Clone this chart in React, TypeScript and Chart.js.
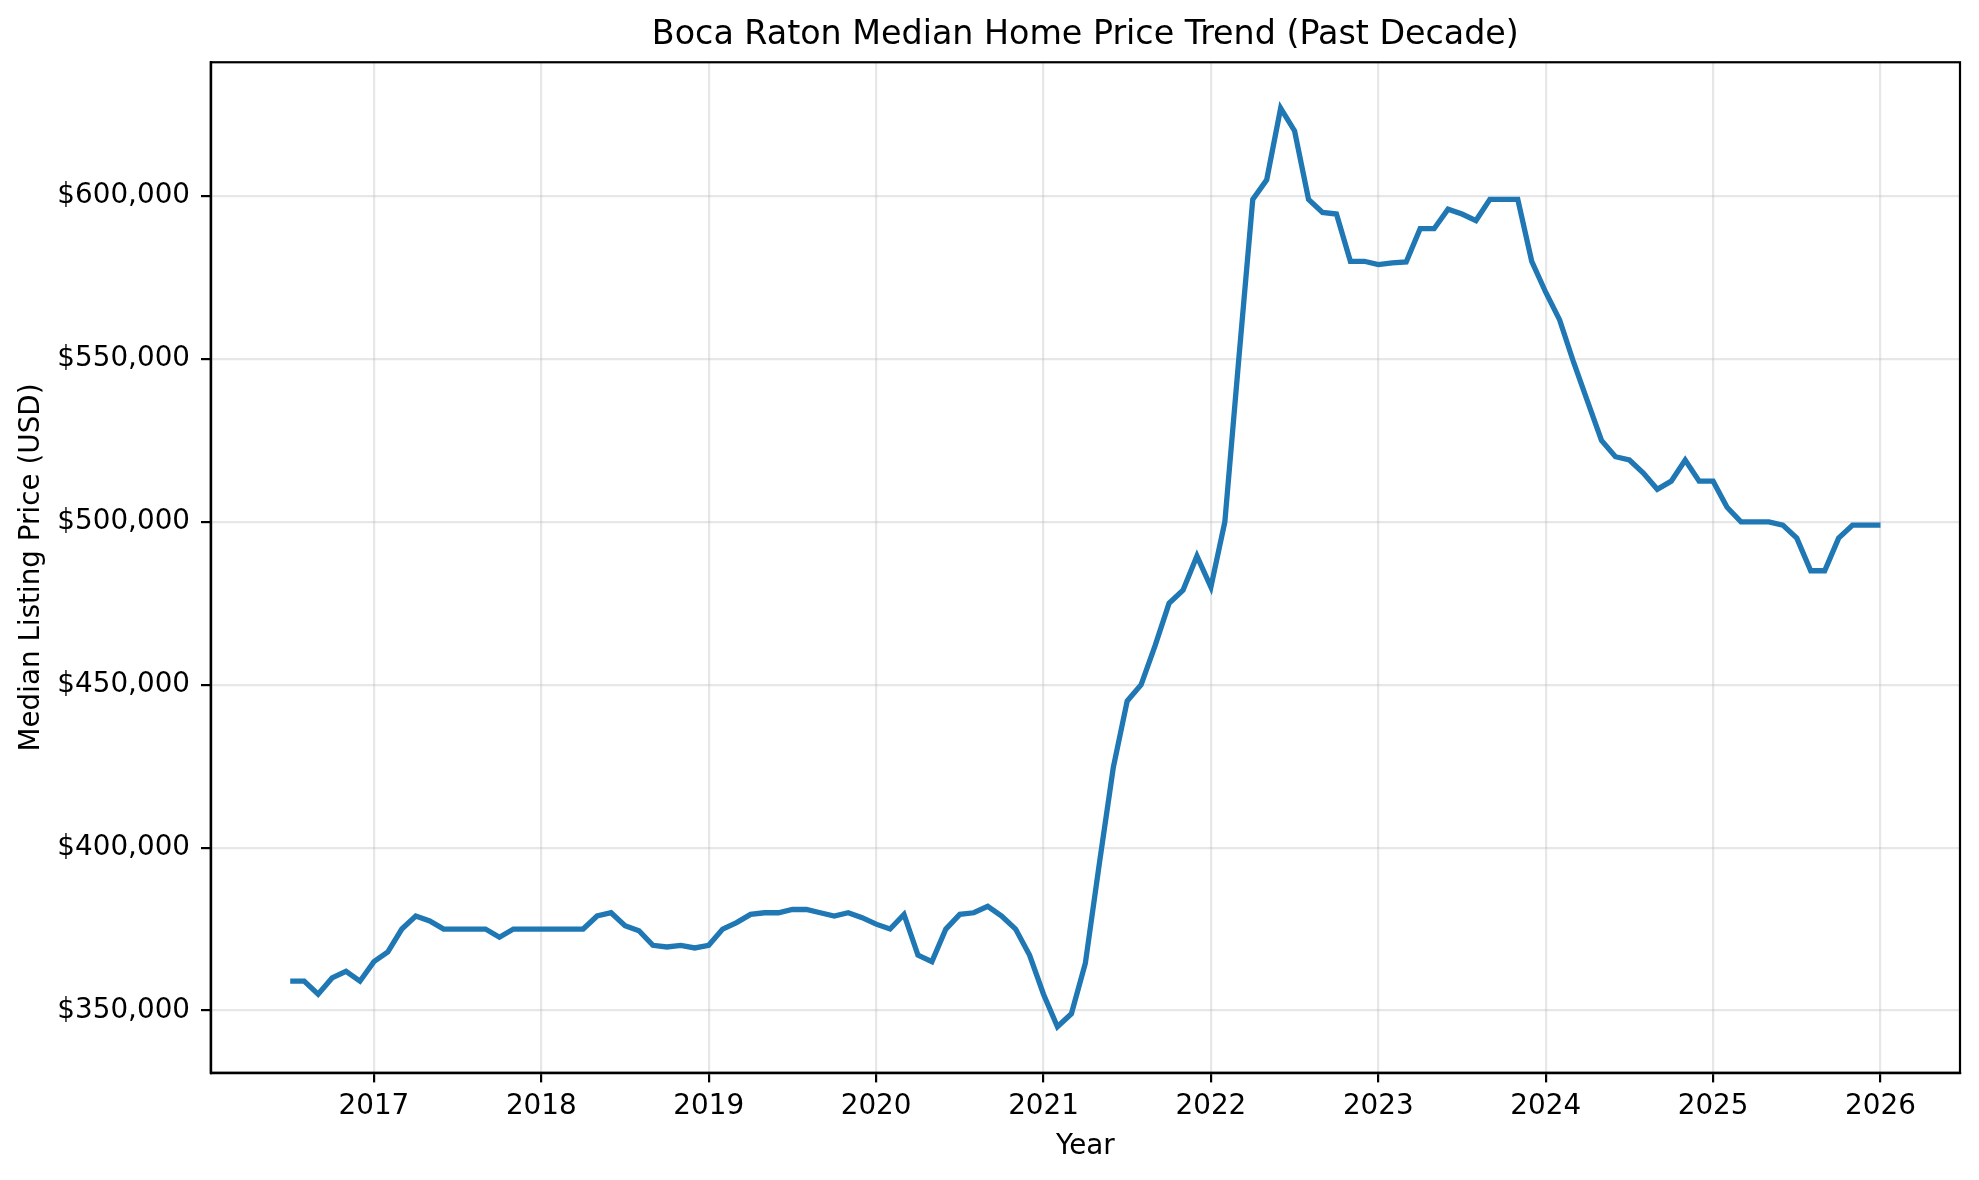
import React, { useEffect, useRef } from "react";
import { Chart, registerables } from "chart.js";

Chart.register(...registerables);

// monthly observations, Jul 2016 .. Jan 2026
const months: string[] = [
  "2016-07", "2016-08", "2016-09", "2016-10", "2016-11", "2016-12",
  "2017-01", "2017-02", "2017-03", "2017-04", "2017-05", "2017-06", "2017-07", "2017-08", "2017-09", "2017-10", "2017-11", "2017-12",
  "2018-01", "2018-02", "2018-03", "2018-04", "2018-05", "2018-06", "2018-07", "2018-08", "2018-09", "2018-10", "2018-11", "2018-12",
  "2019-01", "2019-02", "2019-03", "2019-04", "2019-05", "2019-06", "2019-07", "2019-08", "2019-09", "2019-10", "2019-11", "2019-12",
  "2020-01", "2020-02", "2020-03", "2020-04", "2020-05", "2020-06", "2020-07", "2020-08", "2020-09", "2020-10", "2020-11", "2020-12",
  "2021-01", "2021-02", "2021-03", "2021-04", "2021-05", "2021-06", "2021-07", "2021-08", "2021-09", "2021-10", "2021-11", "2021-12",
  "2022-01", "2022-02", "2022-03", "2022-04", "2022-05", "2022-06", "2022-07", "2022-08", "2022-09", "2022-10", "2022-11", "2022-12",
  "2023-01", "2023-02", "2023-03", "2023-04", "2023-05", "2023-06", "2023-07", "2023-08", "2023-09", "2023-10", "2023-11", "2023-12",
  "2024-01", "2024-02", "2024-03", "2024-04", "2024-05", "2024-06", "2024-07", "2024-08", "2024-09", "2024-10", "2024-11", "2024-12",
  "2025-01", "2025-02", "2025-03", "2025-04", "2025-05", "2025-06", "2025-07", "2025-08", "2025-09", "2025-10", "2025-11", "2025-12",
  "2026-01",
];

const medianPrice: number[] = [
  359000, 359000, 355000, 360000, 362000, 359000,
  365000, 368000, 375000, 379000, 377500, 375000, 375000, 375000, 375000, 372500, 375000, 375000,
  375000, 375000, 375000, 375000, 379000, 380000, 376000, 374500, 370000, 369500, 370000, 369200,
  370000, 375000, 377000, 379500, 380000, 380000, 381000, 381000, 380000, 379000, 380000, 378500,
  376500, 375000, 379500, 367000, 365000, 375000, 379500, 380000, 382000, 379000, 375000, 367000,
  355000, 345000, 349000, 364500, 395000, 424500, 445000, 450000, 462000, 475000, 479000, 489500,
  480000, 500000, 550000, 599000, 605000, 627000, 620000, 599000, 595000, 594500, 580000, 580000,
  579000, 579500, 579800, 590000, 590000, 596000, 594500, 592500, 599000, 599000, 599000, 580000,
  570500, 562000, 549000, 537000, 525000, 520000, 519000, 515000, 510000, 512500, 519000, 512500,
  512500, 504500, 500000, 500000, 500000, 499000, 495000, 485000, 485000, 495000, 499000, 499000,
  499000,
];

const yearTicks: number[] = [2017, 2018, 2019, 2020, 2021, 2022, 2023, 2024, 2025, 2026];
const priceTicks: number[] = [350000, 400000, 450000, 500000, 550000, 600000];

const toYear = (m: string) => {
  const [y, mo] = m.split("-").map(Number);
  return y + (mo - 1) / 12;
};

const FONT = "DejaVu Sans";

// matplotlib-style closed frame around the plot area
const framePlugin = {
  id: "frame",
  afterDraw(chart: Chart) {
    const { ctx, chartArea } = chart;
    ctx.save();
    ctx.strokeStyle = "#000";
    ctx.lineWidth = 2.2;
    ctx.strokeRect(chartArea.left, chartArea.top, chartArea.right - chartArea.left, chartArea.bottom - chartArea.top);
    ctx.restore();
  },
};

const PriceTrendChart: React.FC = () => {
  const canvasRef = useRef<HTMLCanvasElement>(null);
  const chartRef = useRef<Chart>();

  useEffect(() => {
    if (!canvasRef.current) return;
    const ctx = canvasRef.current.getContext("2d");
    if (!ctx) return;

    const points = months.map((m, i) => ({ x: toYear(m), y: medianPrice[i] }));

    chartRef.current = new Chart(ctx, {
      type: "line",
      data: {
        datasets: [
          {
            label: "Median Listing Price",
            data: points,
            borderColor: "#1f77b4",
            borderWidth: 5.3,
            pointRadius: 0,
            tension: 0,
            fill: false,
          },
        ],
      },
      plugins: [framePlugin],
      options: {
        animation: false,
        responsive: false,
        devicePixelRatio: 1,
        layout: { padding: { top: 0, left: 0, right: 19, bottom: 0 } },
        plugins: {
          legend: { display: false },
          tooltip: { enabled: false },
          title: {
            display: true,
            text: "Boca Raton Median Home Price Trend (Past Decade)",
            color: "#000",
            fullSize: false,
            font: { family: FONT, size: 33.3, weight: "normal" },
            padding: { top: 15, bottom: 7.3 },
          },
        },
        scales: {
          x: {
            type: "linear",
            min: 2016.025,
            max: 2026.475,
            afterBuildTicks: (scale: any) => {
              scale.ticks = yearTicks.map((v) => ({ value: v }));
            },
            afterFit: (scale: any) => {
              scale.height = 107.3;
            },
            ticks: {
              color: "#000",
              font: { family: FONT, size: 27.8 },
              padding: 8,
              maxRotation: 0,
              autoSkip: false,
              callback: (v: any) => String(v),
            },
            grid: {
              color: "rgba(176,176,176,0.3)",
              lineWidth: 2.2,
              tickColor: "#000",
              tickWidth: 2.2,
              tickLength: 9.7,
            },
            border: { color: "#000", width: 2.2 },
            title: {
              display: true,
              text: "Year",
              color: "#000",
              font: { family: FONT, size: 27.8 },
              padding: { top: 0, bottom: 17 },
            },
          },
          y: {
            type: "linear",
            min: 330900,
            max: 641100,
            afterBuildTicks: (scale: any) => {
              scale.ticks = priceTicks.map((v) => ({ value: v }));
            },
            afterFit: (scale: any) => {
              scale.width = 210.7;
            },
            ticks: {
              color: "#000",
              font: { family: FONT, size: 27.8 },
              padding: 11,
              autoSkip: false,
              callback: (v: any) => "$" + Number(v).toLocaleString("en-US"),
            },
            grid: {
              color: "rgba(176,176,176,0.3)",
              lineWidth: 2.2,
              tickColor: "#000",
              tickWidth: 2.2,
              tickLength: 9.7,
            },
            border: { color: "#000", width: 2.2 },
            title: {
              display: true,
              text: "Median Listing Price (USD)",
              color: "#000",
              font: { family: FONT, size: 27.8 },
              padding: { top: 15, bottom: 0 },
            },
          },
        },
      },
    });

    return () => {
      if (chartRef.current) {
        chartRef.current.destroy();
      }
    };
  }, []);

  return (
    <div style={{ position: "fixed", left: 0, top: 0, width: 1979, height: 1180, background: "#fff" }}>
      <canvas ref={canvasRef} width={1979} height={1180} />
    </div>
  );
};

export default function App() {
  return <PriceTrendChart />;
}
